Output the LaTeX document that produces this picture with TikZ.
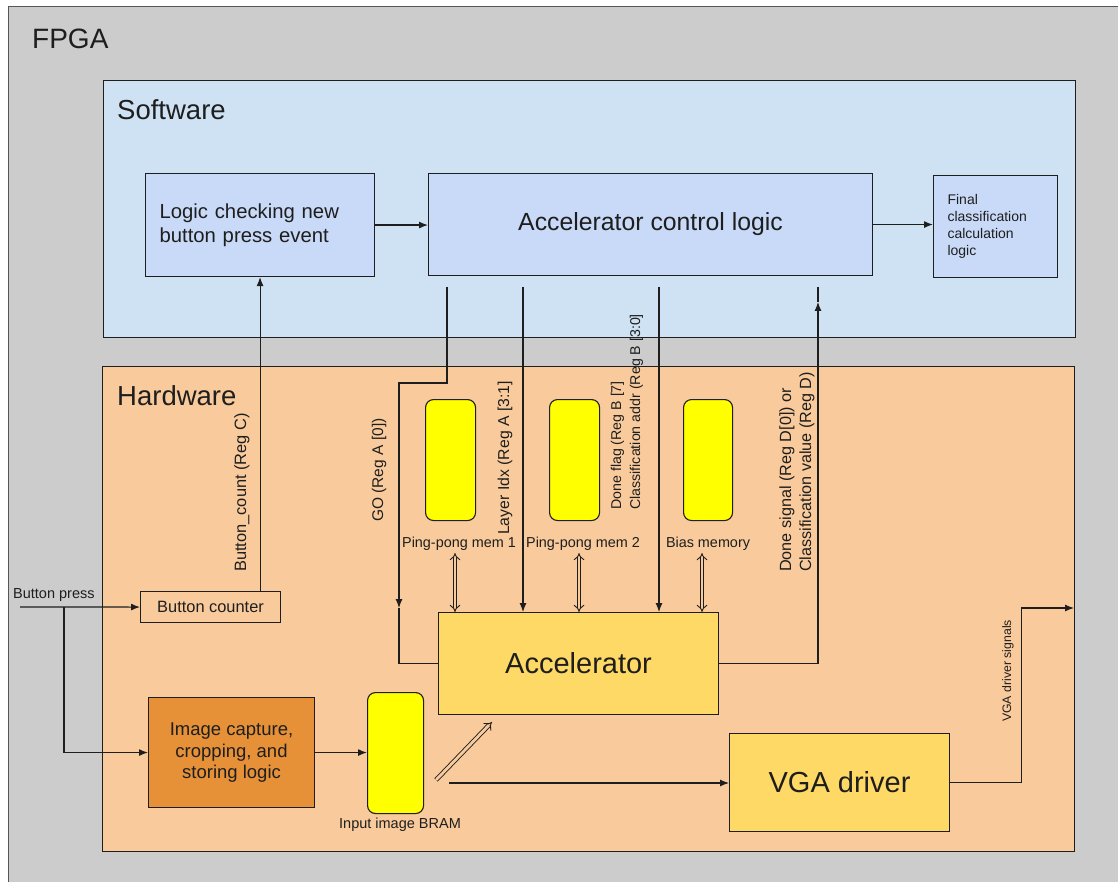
\documentclass[tikz,border=0pt]{standalone}
\usepackage{fontspec}
\setmainfont{Liberation Sans}
\usetikzlibrary{arrows.meta,calc}
\definecolor{fpgagray}{HTML}{CCCCCC}
\definecolor{swfill}{HTML}{CFE2F3}
\definecolor{swbox}{HTML}{C9DAF8}
\definecolor{hwfill}{HTML}{F9CB9C}
\definecolor{accfill}{HTML}{FFD966}
\definecolor{capfill}{HTML}{E69138}
\definecolor{memfill}{HTML}{FFFF00}
\definecolor{ink}{HTML}{1E1E1E}
\newcommand{\fs}[2]{\fontsize{#1}{#2}\selectfont}
\begin{document}
\begin{tikzpicture}[x=1pt,y=-1pt,
  every node/.style={text=ink},
  blk/.style={draw=ink, line width=1.1pt, inner sep=0pt, anchor=north west},
  mem/.style={blk, fill=memfill, rounded corners=8pt},
  conn/.style={draw=ink, line width=1.1pt},
  arr/.style={conn, -{Latex[length=9pt,width=7pt]}},
  bus/.style={draw=ink, line width=0.9pt, double=hwfill, double distance=2.8pt, {Implies}-{Implies}},
  busone/.style={draw=ink, line width=0.9pt, double=hwfill, double distance=2.8pt, -{Implies}},
  vlabel/.style={rotate=90, anchor=west, align=left, inner sep=0pt},
  lbl/.style={inner sep=0pt},
]
\useasboundingbox (0,0) rectangle (1118,882);
\fill[white] (0,0) rectangle (1118,882);
\fill[fpgagray] (8,7) rectangle (1118,882);
\draw[ink!75, line width=1pt] (8,882) -- (8,7) -- (1118,7);
\node[lbl, anchor=west, font=\fs{28}{30}] (fpgalbl) at (32,38.5) {FPGA};

% containers
\node[blk, fill=swfill, minimum width=972pt, minimum height=257pt] (sw) at (103,80) {};
\node[lbl, anchor=west, font=\fs{27.5}{30}] (swlbl) at (117,110) {Software};
\node[blk, fill=hwfill, minimum width=972pt, minimum height=485pt] (hw) at (102,366) {};
\node[lbl, anchor=west, font=\fs{27.5}{30}] (hwlbl) at (117,396) {Hardware};

% software blocks
\node[blk, fill=swbox, minimum height=103pt, text width=201pt, inner xsep=14pt, align=left, font=\fs{20.3}{24}] (logic) at (145,173) {Logic checking new\\button press event};
\node[blk, fill=swbox, minimum width=444pt, minimum height=102pt, font=\fs{24.8}{28}] (acl) at (428,173) {Accelerator control logic};
\node[blk, fill=swbox, minimum height=102pt, text width=96pt, inner xsep=14pt, align=left, font=\fs{14}{17}] (final) at (933,175) {Final\\classification\\calculation\\logic};

% hardware blocks
\node[blk, minimum width=140pt, minimum height=31pt, font=\fs{16.4}{18}] (bc) at (140,591) {Button counter};
\node[blk, fill=capfill, minimum width=166pt, minimum height=110pt, align=center, font=\fs{18.5}{21.5}] (cap) at (148,697) {Image capture,\\cropping, and\\storing logic};
\node[mem, minimum width=56pt, minimum height=121pt] (bram) at (367,692) {};
\node[lbl, font=\fs{14.5}{16}] (bramlbl) at (400,825) {Input image BRAM};
\node[mem, minimum width=50pt, minimum height=121pt] (pp1) at (425,399) {};
\node[mem, minimum width=50pt, minimum height=121pt] (pp2) at (549,399) {};
\node[mem, minimum width=49pt, minimum height=121pt] (bias) at (683,399) {};
\node[lbl, font=\fs{14.4}{16}] (pp1lbl) at (459,544) {Ping-pong mem 1};
\node[lbl, font=\fs{14.4}{16}] (pp2lbl) at (583,544) {Ping-pong mem 2};
\node[lbl, font=\fs{14.4}{16}] (biaslbl) at (708,544) {Bias memory};
\node[blk, fill=accfill, minimum width=280pt, minimum height=102pt, font=\fs{29}{32}] (acc) at (438,612) {Accelerator};
\node[blk, fill=accfill, minimum width=220pt, minimum height=98pt, font=\fs{29}{32}] (vga) at (729,733) {VGA driver};

% coordinates
\coordinate (bp) at (20,607);
\coordinate (bsplit) at (64,607);
\coordinate (go0) at (447,287);
\coordinate (goa) at (399,608);
\coordinate (ly0) at (523,287);
\coordinate (df0) at (659,287);
\coordinate (ds0) at (818,287);
\coordinate (dsa) at (818,302);
\coordinate (bv) at (449,783);
\coordinate (vo) at (1074,608);
\coordinate (d0) at (436,780);
\coordinate (d1) at (492,722);
\coordinate (b1) at (455,553);
\coordinate (b2) at (579,553);
\coordinate (b3) at (702,553);

% connectors
\node[lbl, anchor=west, font=\fs{14.5}{16}] (bplbl) at (13,595) {Button press};
\draw[arr] (bp) -- (bc.west);
\draw[arr] (bsplit) |- (cap.west);
\draw[arr] (logic.south |- bc.north) -- (logic.south);
\draw[arr] (logic.east) -- (acl.west |- logic.east);
\draw[arr] (acl.east) -- (final.west |- acl.east);
\draw[arr] (go0) -- ++(0,96) -| (goa);
\draw[conn] (goa) |- (acc.west);
\draw[arr] (ly0) -- (ly0 |- acc.north);
\draw[arr] (df0) -- (df0 |- acc.north);
\draw[arr] (acc.east) -| (dsa);
\draw[conn] (dsa) -- (ds0);
\draw[bus] (b1) -- (b1 |- acc.north);
\draw[bus] (b2) -- (b2 |- acc.north);
\draw[bus] (b3) -- (b3 |- acc.north);
\draw[arr] (cap.east) -- (bram.west |- cap.east);
\draw[busone] (d0) -- (d1);
\draw[arr] (bv) -- (vga.west |- bv);
\draw[arr] (vga.east) -- ++(71,0) |- (vo);

% vertical labels
\node[vlabel, font=\fs{15.5}{19}] (golbl) at (379,522) {GO (Reg A [0])};
\node[vlabel, font=\fs{16.4}{19}] (bclbl) at (242,572) {Button\_count (Reg C)};
\node[vlabel, font=\fs{15.8}{19}] (lylbl) at (505,535) {Layer Idx (Reg A [3:1]};
\node[vlabel, font=\fs{14.2}{19}] (dflbl) at (627,510) {Done flag (Reg B [7]\\Classification addr (Reg B [3:0]};
\node[vlabel, font=\fs{16.2}{20}] (dslbl) at (797,572) {Done signal (Reg D[0]) or\\Classification value (Reg D)};
\node[vlabel, font=\fs{12.3}{14}] (vgalbl) at (1008,722) {VGA driver signals};
\end{tikzpicture}
\end{document}
